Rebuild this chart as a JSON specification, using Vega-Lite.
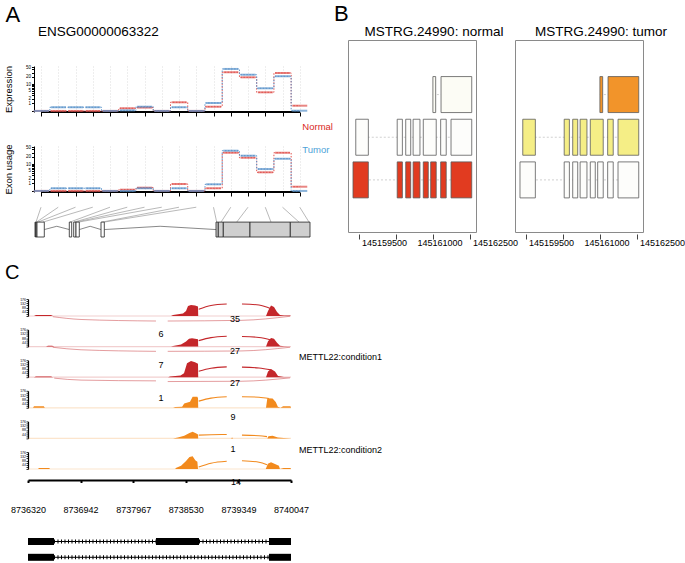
{
"$schema": "https://vega.github.io/schema/vega-lite/v6.json",
"background": "white",
"padding": {"left": 3, "top": 2, "right": 0, "bottom": 0},
"config": {
  "view": {"stroke": null},
  "font": "Liberation Sans",
  "axis": {"grid": false, "labelFlush": false, "labelFont": "Liberation Sans", "titleFont": "Liberation Sans", "labelColor": "black", "titleColor": "black", "domainColor": "black", "tickColor": "black", "titleFontWeight": "normal"},
  "title": {"font": "Liberation Sans", "fontWeight": "normal", "color": "black"},
  "text": {"font": "Liberation Sans"}
},
"datasets": {
  "dex": [
    {"exon":1,"cond":"Normal","expr":0,"usage":0},
    {"exon":2,"cond":"Normal","expr":0,"usage":0},
    {"exon":3,"cond":"Normal","expr":0,"usage":0},
    {"exon":4,"cond":"Normal","expr":0,"usage":0},
    {"exon":5,"cond":"Normal","expr":0,"usage":0},
    {"exon":6,"cond":"Normal","expr":0.27,"usage":0.12},
    {"exon":7,"cond":"Normal","expr":0.35,"usage":0.34},
    {"exon":8,"cond":"Normal","expr":0,"usage":0},
    {"exon":9,"cond":"Normal","expr":1.17,"usage":0.86},
    {"exon":10,"cond":"Normal","expr":0,"usage":0},
    {"exon":11,"cond":"Normal","expr":0.46,"usage":0.27},
    {"exon":12,"cond":"Normal","expr":31,"usage":29.7},
    {"exon":13,"cond":"Normal","expr":19.3,"usage":18.6},
    {"exon":14,"cond":"Normal","expr":4.3,"usage":4.3},
    {"exon":15,"cond":"Normal","expr":29,"usage":29.7},
    {"exon":16,"cond":"Normal","expr":0.6,"usage":0.46},
    {"exon":1,"cond":"Tumor","expr":0,"usage":0},
    {"exon":2,"cond":"Tumor","expr":0.39,"usage":0.27},
    {"exon":3,"cond":"Tumor","expr":0.39,"usage":0.27},
    {"exon":4,"cond":"Tumor","expr":0.39,"usage":0.27},
    {"exon":5,"cond":"Tumor","expr":0,"usage":0},
    {"exon":6,"cond":"Tumor","expr":0.05,"usage":0},
    {"exon":7,"cond":"Tumor","expr":0.46,"usage":0.27},
    {"exon":8,"cond":"Tumor","expr":0,"usage":0},
    {"exon":9,"cond":"Tumor","expr":0.39,"usage":0.27},
    {"exon":10,"cond":"Tumor","expr":0,"usage":0},
    {"exon":11,"cond":"Tumor","expr":1.04,"usage":0.81},
    {"exon":12,"cond":"Tumor","expr":42,"usage":35.8},
    {"exon":13,"cond":"Tumor","expr":24.7,"usage":22.5},
    {"exon":14,"cond":"Tumor","expr":6.6,"usage":6.1},
    {"exon":15,"cond":"Tumor","expr":21.3,"usage":17},
    {"exon":16,"cond":"Tumor","expr":0.02,"usage":0}
  ],
  "legendA": [
    {"label": "Normal", "ex": 16.15, "row": 0},
    {"label": "Tumor", "ex": 16.15, "row": 1}
  ],
  "gconn": [
    {"slot":700,"g":200},{"slot":2425,"g":250},{"slot":4150,"g":400},{"slot":5875,"g":900},
    {"slot":7600,"g":3600},{"slot":9325,"g":4000},{"slot":11050,"g":4200},{"slot":12775,"g":4450},
    {"slot":14500,"g":6800},{"slot":16225,"g":7000},{"slot":17950,"g":18270},{"slot":19675,"g":18700},
    {"slot":21400,"g":20270},{"slot":23125,"g":23700},{"slot":24850,"g":26500},{"slot":26575,"g":27500}
  ],
  "gexon": [
    {"s":100,"e":170,"b":"a"},{"s":200,"e":300,"b":"a"},{"s":300,"e":1030,"b":"a"},
    {"s":3530,"e":3770,"b":"a"},{"s":3970,"e":4200,"b":"a"},{"s":4200,"e":4530,"b":"a"},
    {"s":6700,"e":7030,"b":"a"},{"s":18200,"e":18430,"b":"b"},{"s":18430,"e":18930,"b":"b"},
    {"s":18930,"e":21600,"b":"b"},{"s":21600,"e":25630,"b":"b"},{"s":25630,"e":27600,"b":"b"}
  ],
  "gintron": [
    {"i":1,"p":1030,"h":0.5},{"i":1,"p":2280,"h":0.72},{"i":1,"p":3530,"h":0.5},
    {"i":2,"p":4530,"h":0.5},{"i":2,"p":5615,"h":0.72},{"i":2,"p":6700,"h":0.5},
    {"i":3,"p":7030,"h":0.5},{"i":3,"p":12615,"h":0.72},{"i":3,"p":18200,"h":0.5}
  ],
  "bexon": [
    {"panel":"normal","tx":1,"start":145158835,"end":145159250,"usage":1},
    {"panel":"normal","tx":1,"start":145160030,"end":145160170,"usage":1},
    {"panel":"normal","tx":1,"start":145160260,"end":145160395,"usage":1},
    {"panel":"normal","tx":1,"start":145160460,"end":145160645,"usage":1},
    {"panel":"normal","tx":1,"start":145160735,"end":145160870,"usage":1},
    {"panel":"normal","tx":1,"start":145160935,"end":145161085,"usage":1},
    {"panel":"normal","tx":1,"start":145161205,"end":145161355,"usage":1},
    {"panel":"normal","tx":1,"start":145161485,"end":145162045,"usage":1},
    {"panel":"normal","tx":2,"start":145158910,"end":145159250,"usage":0},
    {"panel":"normal","tx":2,"start":145160030,"end":145160170,"usage":0},
    {"panel":"normal","tx":2,"start":145160260,"end":145160395,"usage":0},
    {"panel":"normal","tx":2,"start":145160460,"end":145160645,"usage":0},
    {"panel":"normal","tx":2,"start":145160735,"end":145161085,"usage":0},
    {"panel":"normal","tx":2,"start":145161205,"end":145161355,"usage":0},
    {"panel":"normal","tx":2,"start":145161485,"end":145162045,"usage":0},
    {"panel":"normal","tx":3,"start":145160995,"end":145161070,"usage":0.02},
    {"panel":"normal","tx":3,"start":145161215,"end":145162045,"usage":0.02},
    {"panel":"tumor","tx":1,"start":145158835,"end":145159250,"usage":0},
    {"panel":"tumor","tx":1,"start":145160030,"end":145160170,"usage":0},
    {"panel":"tumor","tx":1,"start":145160260,"end":145160395,"usage":0},
    {"panel":"tumor","tx":1,"start":145160460,"end":145160645,"usage":0},
    {"panel":"tumor","tx":1,"start":145160735,"end":145160870,"usage":0},
    {"panel":"tumor","tx":1,"start":145160935,"end":145161085,"usage":0},
    {"panel":"tumor","tx":1,"start":145161205,"end":145161355,"usage":0},
    {"panel":"tumor","tx":1,"start":145161485,"end":145162045,"usage":0},
    {"panel":"tumor","tx":2,"start":145158910,"end":145159250,"usage":0.4},
    {"panel":"tumor","tx":2,"start":145160030,"end":145160170,"usage":0.4},
    {"panel":"tumor","tx":2,"start":145160260,"end":145160395,"usage":0.4},
    {"panel":"tumor","tx":2,"start":145160460,"end":145160645,"usage":0.4},
    {"panel":"tumor","tx":2,"start":145160735,"end":145161085,"usage":0.4},
    {"panel":"tumor","tx":2,"start":145161205,"end":145161355,"usage":0.4},
    {"panel":"tumor","tx":2,"start":145161485,"end":145162045,"usage":0.4},
    {"panel":"tumor","tx":3,"start":145160995,"end":145161070,"usage":0.6},
    {"panel":"tumor","tx":3,"start":145161215,"end":145162045,"usage":0.6}
  ],
  "blab": [
    {"pos":145159500,"label":"145159500"},
    {"pos":145161000,"label":"145161000"},
    {"pos":145162500,"label":"145162500"}
  ],
  "sash": [
    {"t":1,"k":"base","u":0,"u2":5,"v":0},{"t":2,"k":"base","u":0,"u2":5,"v":0},{"t":3,"k":"base","u":0,"u2":5,"v":0},
    {"t":4,"k":"base","u":0,"u2":5,"v":0},{"t":5,"k":"base","u":0,"u2":5,"v":0},{"t":6,"k":"base","u":0,"u2":5,"v":0},

    {"t":1,"k":"cov","u":0,"v":0},{"t":1,"k":"cov","u":0.114,"v":0},{"t":1,"k":"cov","u":0.152,"v":10},{"t":1,"k":"cov","u":0.437,"v":10},{"t":1,"k":"cov","u":0.475,"v":0},
    {"t":1,"k":"cov","u":2.719,"v":0},{"t":1,"k":"cov","u":2.757,"v":10},{"t":1,"k":"cov","u":2.947,"v":26},{"t":1,"k":"cov","u":3.004,"v":52},{"t":1,"k":"cov","u":3.042,"v":104},{"t":1,"k":"cov","u":3.099,"v":114},{"t":1,"k":"cov","u":3.175,"v":109},{"t":1,"k":"cov","u":3.232,"v":98},{"t":1,"k":"cov","u":3.236,"v":0},
    {"t":1,"k":"cov","u":4.525,"v":0},{"t":1,"k":"cov","u":4.563,"v":52},{"t":1,"k":"cov","u":4.62,"v":109},{"t":1,"k":"cov","u":4.677,"v":93},{"t":1,"k":"cov","u":4.734,"v":41},{"t":1,"k":"cov","u":4.791,"v":10},{"t":1,"k":"cov","u":4.867,"v":5},{"t":1,"k":"cov","u":4.981,"v":5},{"t":1,"k":"cov","u":5,"v":0},

    {"t":2,"k":"cov","u":0,"v":0},{"t":2,"k":"cov","u":0.342,"v":0},{"t":2,"k":"cov","u":0.38,"v":10},{"t":2,"k":"cov","u":0.46,"v":10},{"t":2,"k":"cov","u":0.5,"v":0},
    {"t":2,"k":"cov","u":2.719,"v":0},{"t":2,"k":"cov","u":2.757,"v":7},{"t":2,"k":"cov","u":2.909,"v":21},{"t":2,"k":"cov","u":3.004,"v":52},{"t":2,"k":"cov","u":3.061,"v":80},{"t":2,"k":"cov","u":3.118,"v":86},{"t":2,"k":"cov","u":3.175,"v":80},{"t":2,"k":"cov","u":3.232,"v":75},{"t":2,"k":"cov","u":3.236,"v":0},
    {"t":2,"k":"cov","u":4.525,"v":0},{"t":2,"k":"cov","u":4.563,"v":55},{"t":2,"k":"cov","u":4.62,"v":90},{"t":2,"k":"cov","u":4.677,"v":80},{"t":2,"k":"cov","u":4.734,"v":40},{"t":2,"k":"cov","u":4.791,"v":10},{"t":2,"k":"cov","u":4.867,"v":3},{"t":2,"k":"cov","u":5,"v":0},

    {"t":3,"k":"cov","u":0,"v":0},{"t":3,"k":"cov","u":0.114,"v":0},{"t":3,"k":"cov","u":0.152,"v":7},{"t":3,"k":"cov","u":0.437,"v":7},{"t":3,"k":"cov","u":0.475,"v":0},
    {"t":3,"k":"cov","u":2.663,"v":0},{"t":3,"k":"cov","u":2.7,"v":7},{"t":3,"k":"cov","u":2.9,"v":17},{"t":3,"k":"cov","u":2.966,"v":41},{"t":3,"k":"cov","u":3.023,"v":145},{"t":3,"k":"cov","u":3.099,"v":169},{"t":3,"k":"cov","u":3.175,"v":155},{"t":3,"k":"cov","u":3.232,"v":140},{"t":3,"k":"cov","u":3.236,"v":0},
    {"t":3,"k":"cov","u":4.525,"v":0},{"t":3,"k":"cov","u":4.563,"v":60},{"t":3,"k":"cov","u":4.62,"v":86},{"t":3,"k":"cov","u":4.696,"v":60},{"t":3,"k":"cov","u":4.753,"v":13},{"t":3,"k":"cov","u":4.867,"v":3},{"t":3,"k":"cov","u":5,"v":0},

    {"t":4,"k":"cov","u":0,"v":0},{"t":4,"k":"cov","u":0.095,"v":0},{"t":4,"k":"cov","u":0.114,"v":17},{"t":4,"k":"cov","u":0.3,"v":17},{"t":4,"k":"cov","u":0.32,"v":0},
    {"t":4,"k":"cov","u":2.757,"v":0},{"t":4,"k":"cov","u":2.8,"v":7},{"t":4,"k":"cov","u":2.93,"v":10},{"t":4,"k":"cov","u":2.97,"v":45},{"t":4,"k":"cov","u":3.08,"v":62},{"t":4,"k":"cov","u":3.13,"v":114},{"t":4,"k":"cov","u":3.22,"v":114},{"t":4,"k":"cov","u":3.232,"v":100},{"t":4,"k":"cov","u":3.236,"v":0},
    {"t":4,"k":"cov","u":4.525,"v":0},{"t":4,"k":"cov","u":4.55,"v":100},{"t":4,"k":"cov","u":4.65,"v":95},{"t":4,"k":"cov","u":4.71,"v":60},{"t":4,"k":"cov","u":4.75,"v":10},{"t":4,"k":"cov","u":4.8,"v":0},{"t":4,"k":"cov","u":4.85,"v":17},{"t":4,"k":"cov","u":4.99,"v":17},{"t":4,"k":"cov","u":5,"v":0},

    {"t":5,"k":"cov","u":0,"v":0},{"t":5,"k":"cov","u":2.757,"v":0},{"t":5,"k":"cov","u":2.85,"v":10},{"t":5,"k":"cov","u":2.97,"v":28},{"t":5,"k":"cov","u":3.07,"v":55},{"t":5,"k":"cov","u":3.13,"v":69},{"t":5,"k":"cov","u":3.2,"v":52},{"t":5,"k":"cov","u":3.232,"v":40},{"t":5,"k":"cov","u":3.236,"v":0},
    {"t":5,"k":"cov","u":3.86,"v":0},{"t":5,"k":"cov","u":3.88,"v":10},{"t":5,"k":"cov","u":3.9,"v":0},
    {"t":5,"k":"cov","u":4.55,"v":0},{"t":5,"k":"cov","u":4.57,"v":21},{"t":5,"k":"cov","u":4.65,"v":28},{"t":5,"k":"cov","u":4.75,"v":10},{"t":5,"k":"cov","u":4.86,"v":3},{"t":5,"k":"cov","u":5,"v":0},

    {"t":6,"k":"cov","u":0,"v":0},{"t":6,"k":"cov","u":0.19,"v":0},{"t":6,"k":"cov","u":0.21,"v":10},{"t":6,"k":"cov","u":0.4,"v":10},{"t":6,"k":"cov","u":0.42,"v":0},
    {"t":6,"k":"cov","u":2.8,"v":0},{"t":6,"k":"cov","u":2.81,"v":10},{"t":6,"k":"cov","u":2.91,"v":34},{"t":6,"k":"cov","u":3.0,"v":80},{"t":6,"k":"cov","u":3.07,"v":125},{"t":6,"k":"cov","u":3.13,"v":131},{"t":6,"k":"cov","u":3.18,"v":90},{"t":6,"k":"cov","u":3.22,"v":75},{"t":6,"k":"cov","u":3.232,"v":0},
    {"t":6,"k":"cov","u":4.52,"v":0},{"t":6,"k":"cov","u":4.56,"v":55},{"t":6,"k":"cov","u":4.62,"v":69},{"t":6,"k":"cov","u":4.77,"v":34},{"t":6,"k":"cov","u":4.79,"v":0},{"t":6,"k":"cov","u":4.86,"v":10},{"t":6,"k":"cov","u":4.99,"v":10},{"t":6,"k":"cov","u":5,"v":0},

    {"t":1,"k":"up","a":"1a","u":3.245,"v":69},{"t":1,"k":"up","a":"1a","u":3.479,"v":109},{"t":1,"k":"up","a":"1a","u":3.778,"v":124},
    {"t":1,"k":"up","a":"1b","u":4.068,"v":124},{"t":1,"k":"up","a":"1b","u":4.392,"v":114},{"t":1,"k":"up","a":"1b","u":4.62,"v":76},
    {"t":1,"k":"low","a":"1c","u":0.47,"v":-7},{"t":1,"k":"low","a":"1c","u":1.008,"v":-36},{"t":1,"k":"low","a":"1c","u":2.433,"v":-52},
    {"t":1,"k":"low","a":"1d","u":2.656,"v":-52},{"t":1,"k":"low","a":"1d","u":4.049,"v":-45},{"t":1,"k":"low","a":"1d","u":4.981,"v":-3},
    {"t":2,"k":"up","a":"2a","u":3.245,"v":62},{"t":2,"k":"up","a":"2a","u":3.479,"v":93},{"t":2,"k":"up","a":"2a","u":3.778,"v":107},
    {"t":2,"k":"up","a":"2b","u":4.068,"v":104},{"t":2,"k":"up","a":"2b","u":4.392,"v":95},{"t":2,"k":"up","a":"2b","u":4.62,"v":69},
    {"t":2,"k":"low","a":"2c","u":0.47,"v":-7},{"t":2,"k":"low","a":"2c","u":1.008,"v":-33},{"t":2,"k":"low","a":"2c","u":2.433,"v":-49},
    {"t":2,"k":"low","a":"2d","u":2.656,"v":-49},{"t":2,"k":"low","a":"2d","u":4.049,"v":-45},{"t":2,"k":"low","a":"2d","u":4.981,"v":-7},
    {"t":3,"k":"up","a":"3a","u":3.245,"v":62},{"t":3,"k":"up","a":"3a","u":3.479,"v":93},{"t":3,"k":"up","a":"3a","u":3.778,"v":107},
    {"t":3,"k":"up","a":"3b","u":4.068,"v":104},{"t":3,"k":"up","a":"3b","u":4.392,"v":95},{"t":3,"k":"up","a":"3b","u":4.62,"v":76},
    {"t":3,"k":"low","a":"3c","u":0.499,"v":-10},{"t":3,"k":"low","a":"3c","u":1.008,"v":-30},{"t":3,"k":"low","a":"3c","u":2.433,"v":-38},
    {"t":3,"k":"low","a":"3d","u":2.656,"v":-45},{"t":3,"k":"low","a":"3d","u":4.049,"v":-42},{"t":3,"k":"low","a":"3d","u":4.981,"v":-7},
    {"t":4,"k":"up","a":"4a","u":3.245,"v":69},{"t":4,"k":"up","a":"4a","u":3.479,"v":100},{"t":4,"k":"up","a":"4a","u":3.778,"v":114},
    {"t":4,"k":"up","a":"4b","u":4.068,"v":114},{"t":4,"k":"up","a":"4b","u":4.392,"v":110},{"t":4,"k":"up","a":"4b","u":4.582,"v":96},
    {"t":5,"k":"up","a":"5a","u":3.245,"v":34},{"t":5,"k":"up","a":"5a","u":3.479,"v":38},{"t":5,"k":"up","a":"5a","u":3.778,"v":41},
    {"t":5,"k":"up","a":"5b","u":4.068,"v":34},{"t":5,"k":"up","a":"5b","u":4.392,"v":28},{"t":5,"k":"up","a":"5b","u":4.544,"v":18},
    {"t":6,"k":"up","a":"6a","u":3.245,"v":21},{"t":6,"k":"up","a":"6a","u":3.479,"v":60},{"t":6,"k":"up","a":"6a","u":3.778,"v":80},
    {"t":6,"k":"up","a":"6b","u":4.068,"v":86},{"t":6,"k":"up","a":"6b","u":4.392,"v":70},{"t":6,"k":"up","a":"6b","u":4.544,"v":45},

    {"t":1,"k":"lab","u":3.935,"v":-31,"txt":"35"},
    {"t":1,"k":"lab","u":2.529,"v":-183,"txt":"6"},
    {"t":2,"k":"lab","u":3.935,"v":-41,"txt":"27"},
    {"t":2,"k":"lab","u":2.529,"v":-194,"txt":"7"},
    {"t":3,"k":"lab","u":3.935,"v":-59,"txt":"27"},
    {"t":3,"k":"lab","u":2.529,"v":-217,"txt":"1"},
    {"t":4,"k":"lab","u":3.897,"v":-93,"txt":"9"},
    {"t":5,"k":"lab","u":3.897,"v":-111,"txt":"1"},
    {"t":6,"k":"lab","u":3.954,"v":-138,"txt":"14"},
    {"t":2,"k":"cond","u":5.15,"v":-111,"txt":"METTL22:condition1"},
    {"t":5,"k":"cond","u":5.15,"v":-119,"txt":"METTL22:condition2"}
  ],
  "cgene": [
    {"tx":1,"kind":"exon","s":0,"e":0.494},{"tx":1,"kind":"exon","s":2.433,"e":3.251},{"tx":1,"kind":"exon","s":4.582,"e":5},
    {"tx":1,"kind":"intron","s":0.494,"e":2.433},{"tx":1,"kind":"intron","s":3.251,"e":4.582},
    {"tx":2,"kind":"exon","s":0,"e":0.494},{"tx":2,"kind":"exon","s":4.582,"e":5},
    {"tx":2,"kind":"intron","s":0.494,"e":4.582}
  ]
},
"spacing": 14,
"resolve": {"scale": {"color": "independent", "fill": "independent"}},
"vconcat": [
  {
    "spacing": 1,
    "resolve": {"scale": {"color": "independent", "fill": "independent"}},
    "hconcat": [
      {
        "title": {"text": "A", "anchor": "start", "fontSize": 22, "baseline": "alphabetic", "offset": -19, "dx": 2},
        "bounds": "flush",
        "spacing": 10,
        "vconcat": [
          {"width": 1, "height": 16, "data": {"values": []}, "mark": "point", "encoding": {}},
          {
            "width": 279, "height": 46,
            "title": {"text": "ENSG00000063322", "anchor": "start", "frame": "group", "dx": 10, "offset": 15, "baseline": "alphabetic", "fontSize": 13.5},
            "data": {"name": "dex"},
            "encoding": {
              "x": {"field": "exon", "type": "quantitative", "title": null, "scale": {"domain": [0.232, 16.42], "nice": false, "zero": false},
                    "axis": {"values": [1,2,3,4,5,6,7,8,9,10,11,12,13,14,15,16], "labels": false, "domain": false, "tickSize": 4, "grid": true, "gridDash": [1,2], "gridColor": "#cfcfcf", "gridWidth": 0.7}},
              "y": {"field": "expr", "type": "quantitative", "title": "Expression", "scale": {"type": "symlog", "domain": [-0.1, 55], "nice": false, "zero": false},
                    "axis": {"offset": -6, "values": [0,1,2,3,4,5,6,7,8,9,10,20,30,40,50], "labelExpr": "indexof([1,2,5,10,20,50], datum.value) >= 0 ? datum.label : ''", "labelFontSize": 4.5, "tickSize": 2.5, "labelPadding": 1, "titleFontSize": 9.5, "titlePadding": 12}},
              "color": {"field": "cond", "type": "nominal", "scale": {"domain": ["Normal", "Tumor"], "range": ["#e0524e", "#5a93cb"]}, "legend": null}
            },
            "layer": [
              {"mark": {"type": "rule", "strokeWidth": 1}, "encoding": {"x": {"datum": 1}, "x2": {"datum": 16}, "y": {"datum": -0.1}, "color": {"value": "black"}}},
              {"mark": {"type": "line", "interpolate": "step", "strokeDash": [1.5, 1.5], "strokeWidth": 1}},
              {"mark": {"type": "tick", "orient": "horizontal", "size": 15, "thickness": 2}}
            ]
          },
          {
            "width": 279, "height": 14,
            "data": {"name": "legendA"},
            "encoding": {
              "x": {"field": "ex", "type": "quantitative", "title": null, "scale": {"domain": [0.232, 16.42], "nice": false, "zero": false}, "axis": null},
              "y": {"field": "row", "type": "quantitative", "title": null, "scale": {"domain": [-0.217, 0.391], "reverse": true, "nice": false, "zero": false}, "axis": null},
              "text": {"field": "label"}
            },
            "layer": [
              {"transform": [{"filter": "datum.label == 'Normal'"}], "mark": {"type": "text", "align": "left", "baseline": "middle", "fontSize": 9.5, "color": "#d9281e"}},
              {"transform": [{"filter": "datum.label == 'Tumor'"}], "mark": {"type": "text", "align": "left", "baseline": "middle", "fontSize": 9.5, "color": "#4ea2d8"}}
            ]
          },
          {
            "width": 279, "height": 46,
            "data": {"name": "dex"},
            "encoding": {
              "x": {"field": "exon", "type": "quantitative", "title": null, "scale": {"domain": [0.232, 16.42], "nice": false, "zero": false},
                    "axis": {"values": [1,2,3,4,5,6,7,8,9,10,11,12,13,14,15,16], "labels": false, "domain": false, "tickSize": 4, "grid": true, "gridDash": [1,2], "gridColor": "#cfcfcf", "gridWidth": 0.7}},
              "y": {"field": "usage", "type": "quantitative", "title": "Exon usage", "scale": {"type": "symlog", "domain": [-0.1, 55], "nice": false, "zero": false},
                    "axis": {"offset": -6, "values": [0,1,2,3,4,5,6,7,8,9,10,20,30,40,50], "labelExpr": "indexof([1,2,5,10,20,50], datum.value) >= 0 ? datum.label : ''", "labelFontSize": 4.5, "tickSize": 2.5, "labelPadding": 1, "titleFontSize": 9.5, "titlePadding": 12}},
              "color": {"field": "cond", "type": "nominal", "scale": {"domain": ["Normal", "Tumor"], "range": ["#e0524e", "#5a93cb"]}, "legend": null}
            },
            "layer": [
              {"mark": {"type": "rule", "strokeWidth": 1}, "encoding": {"x": {"datum": 1}, "x2": {"datum": 16}, "y": {"datum": -0.1}, "color": {"value": "black"}}},
              {"mark": {"type": "line", "interpolate": "step", "strokeDash": [1.5, 1.5], "strokeWidth": 1}},
              {"mark": {"type": "tick", "orient": "horizontal", "size": 15, "thickness": 2}}
            ]
          },
          {
            "width": 282, "height": 35,
            "layer": [
              {"data": {"name": "gconn"}, "mark": {"type": "rule", "color": "#8a8a8a", "strokeWidth": 0.6},
               "encoding": {"x": {"field": "slot", "type": "quantitative", "title": null, "scale": {"domain": [-600, 27600], "nice": false, "zero": false}, "axis": null},
                            "x2": {"field": "g"},
                            "y": {"datum": 2, "type": "quantitative", "scale": {"domain": [0, 2.35], "nice": false, "zero": false}, "axis": null},
                            "y2": {"datum": 1}}},
              {"data": {"name": "gintron"}, "mark": {"type": "line", "color": "#555555", "strokeWidth": 0.7},
               "encoding": {"x": {"field": "p", "type": "quantitative", "title": null, "axis": null}, "y": {"field": "h", "type": "quantitative", "title": null, "axis": null}, "detail": {"field": "i"}}},
              {"data": {"name": "gexon"}, "mark": {"type": "rect", "stroke": "#222222", "strokeWidth": 0.8},
               "encoding": {"x": {"field": "s", "type": "quantitative", "title": null, "axis": null}, "x2": {"field": "e"},
                            "y": {"datum": 0}, "y2": {"datum": 1},
                            "fill": {"field": "b", "type": "nominal", "scale": {"domain": ["a", "b"], "range": ["#ffffff", "#cfcfcf"]}, "legend": null}}}
            ]
          }
        ]
      },
      {
        "title": {"text": "B", "anchor": "start", "fontSize": 22, "baseline": "alphabetic", "offset": -18.5, "dx": -13.5},
        "bounds": "flush",
        "spacing": 39,
        "hconcat": [
          {
            "width": 128, "height": 192,
            "view": {"stroke": "#8a8a8a", "strokeWidth": 1},
            "title": {"text": "MSTRG.24990: normal", "anchor": "middle", "dx": 22, "offset": -9, "baseline": "alphabetic", "fontSize": 13.5},
            "layer": [
              {"data": {"name": "bexon"},
               "transform": [{"filter": "datum.panel == 'normal'"}, {"aggregate": [{"op": "min", "field": "start", "as": "a"}, {"op": "max", "field": "end", "as": "b"}], "groupby": ["tx"]}],
               "mark": {"type": "rule", "strokeDash": [2, 2], "color": "#c4c4c4", "strokeWidth": 0.8},
               "encoding": {"x": {"field": "a", "type": "quantitative", "title": null, "scale": {"domain": [145158700, 145162160], "nice": false, "zero": false},
                                  "axis": {"values": [145159000, 145159500, 145160000, 145160500, 145161000, 145161500, 145162000], "labels": false, "domain": false, "tickSize": 5, "offset": 2, "tickColor": "#444444"}},
                            "x2": {"field": "b"},
                            "y": {"field": "tx", "type": "quantitative", "title": null, "scale": {"domain": [-0.104, 4.162], "nice": false, "zero": false}, "axis": null}}},
              {"data": {"name": "bexon"},
               "transform": [{"filter": "datum.panel == 'normal'"}],
               "mark": {"type": "bar", "orient": "horizontal", "size": 36, "stroke": "#5a5a5a", "strokeWidth": 0.8},
               "encoding": {"x": {"field": "start", "type": "quantitative", "title": null}, "x2": {"field": "end"},
                            "y": {"field": "tx", "type": "quantitative", "title": null},
                            "fill": {"field": "usage", "type": "quantitative", "scale": {"domain": [0, 0.4, 0.6, 1], "range": ["#fdfdfb", "#f5ee86", "#f2942a", "#e13b20"]}, "legend": null}}},
              {"data": {"name": "blab"},
               "mark": {"type": "text", "fontSize": 9, "dx": 7, "dy": 16, "baseline": "middle"},
               "encoding": {"x": {"field": "pos", "type": "quantitative", "title": null}, "y": {"datum": -0.104}, "text": {"field": "label"}}}
            ]
          },
          {
            "width": 128, "height": 192,
            "view": {"stroke": "#8a8a8a", "strokeWidth": 1},
            "title": {"text": "MSTRG.24990: tumor", "anchor": "middle", "dx": 22, "offset": -9, "baseline": "alphabetic", "fontSize": 13.5},
            "layer": [
              {"data": {"name": "bexon"},
               "transform": [{"filter": "datum.panel == 'tumor'"}, {"aggregate": [{"op": "min", "field": "start", "as": "a"}, {"op": "max", "field": "end", "as": "b"}], "groupby": ["tx"]}],
               "mark": {"type": "rule", "strokeDash": [2, 2], "color": "#c4c4c4", "strokeWidth": 0.8},
               "encoding": {"x": {"field": "a", "type": "quantitative", "title": null, "scale": {"domain": [145158700, 145162160], "nice": false, "zero": false},
                                  "axis": {"values": [145159000, 145159500, 145160000, 145160500, 145161000, 145161500, 145162000], "labels": false, "domain": false, "tickSize": 5, "offset": 2, "tickColor": "#444444"}},
                            "x2": {"field": "b"},
                            "y": {"field": "tx", "type": "quantitative", "title": null, "scale": {"domain": [-0.104, 4.162], "nice": false, "zero": false}, "axis": null}}},
              {"data": {"name": "bexon"},
               "transform": [{"filter": "datum.panel == 'tumor'"}],
               "mark": {"type": "bar", "orient": "horizontal", "size": 36, "stroke": "#5a5a5a", "strokeWidth": 0.8},
               "encoding": {"x": {"field": "start", "type": "quantitative", "title": null}, "x2": {"field": "end"},
                            "y": {"field": "tx", "type": "quantitative", "title": null},
                            "fill": {"field": "usage", "type": "quantitative", "scale": {"domain": [0, 0.4, 0.6, 1], "range": ["#fdfdfb", "#f5ee86", "#f2942a", "#e13b20"]}, "legend": null}}},
              {"data": {"name": "blab"},
               "mark": {"type": "text", "fontSize": 9, "dx": 7, "dy": 16, "baseline": "middle"},
               "encoding": {"x": {"field": "pos", "type": "quantitative", "title": null}, "y": {"datum": -0.104}, "text": {"field": "label"}}}
            ]
          }
        ]
      }
    ]
  },
  {
    "title": {"text": "C", "anchor": "start", "fontSize": 20, "baseline": "alphabetic", "offset": -2, "dx": -5.5},
    "bounds": "flush",
    "spacing": 13.6,
    "vconcat": [
      {
        "width": 263, "height": 17,
        "data": {"name": "sash"},
        "transform": [{"filter": "datum.t == 1"}],
        "encoding": {
          "x": {"field": "u", "type": "quantitative", "title": null, "scale": {"domain": [0, 5], "nice": false, "zero": false}, "axis": null},
          "y": {"field": "v", "type": "quantitative", "title": null, "scale": {"domain": [0, 176], "nice": false, "zero": false},
                "axis": {"values": [0, 22, 44, 66, 88, 110, 132, 154, 176], "labelExpr": "datum.value > 0 && datum.value % 44 == 0 ? datum.label : ''", "labelFontSize": 3.5, "tickSize": 2, "labelPadding": 0.5, "domainWidth": 1.2, "tickWidth": 0.8}},
          "color": {"field": "t", "type": "nominal", "scale": {"domain": [1, 2, 3, 4, 5, 6], "range": ["#c4262a", "#c4262a", "#c4262a", "#f28a1d", "#f28a1d", "#f28a1d"]}, "legend": null}
        },
        "layer": [
          {"transform": [{"filter": "datum.k == 'base'"}], "mark": {"type": "rule", "strokeWidth": 1.2, "opacity": 0.22}, "encoding": {"x2": {"field": "u2"}}},
          {"transform": [{"filter": "datum.k == 'low'"}], "mark": {"type": "line", "interpolate": "monotone", "strokeWidth": 1, "opacity": 0.45}, "encoding": {"detail": {"field": "a"}}},
          {"transform": [{"filter": "datum.k == 'up'"}], "mark": {"type": "line", "interpolate": "monotone", "strokeWidth": 1.1}, "encoding": {"detail": {"field": "a"}}},
          {"transform": [{"filter": "datum.k == 'cov'"}], "mark": {"type": "area"}},
          {"transform": [{"filter": "datum.k == 'lab'"}], "mark": {"type": "text", "fontSize": 9, "baseline": "middle"}, "encoding": {"text": {"field": "txt"}, "color": {"value": "black"}}}
        ]
      },
      {
        "width": 263, "height": 17,
        "data": {"name": "sash"},
        "transform": [{"filter": "datum.t == 2"}],
        "encoding": {
          "x": {"field": "u", "type": "quantitative", "title": null, "scale": {"domain": [0, 5], "nice": false, "zero": false}, "axis": null},
          "y": {"field": "v", "type": "quantitative", "title": null, "scale": {"domain": [0, 176], "nice": false, "zero": false},
                "axis": {"values": [0, 22, 44, 66, 88, 110, 132, 154, 176], "labelExpr": "datum.value > 0 && datum.value % 44 == 0 ? datum.label : ''", "labelFontSize": 3.5, "tickSize": 2, "labelPadding": 0.5, "domainWidth": 1.2, "tickWidth": 0.8}},
          "color": {"field": "t", "type": "nominal", "scale": {"domain": [1, 2, 3, 4, 5, 6], "range": ["#c4262a", "#c4262a", "#c4262a", "#f28a1d", "#f28a1d", "#f28a1d"]}, "legend": null}
        },
        "layer": [
          {"transform": [{"filter": "datum.k == 'base'"}], "mark": {"type": "rule", "strokeWidth": 1.2, "opacity": 0.22}, "encoding": {"x2": {"field": "u2"}}},
          {"transform": [{"filter": "datum.k == 'low'"}], "mark": {"type": "line", "interpolate": "monotone", "strokeWidth": 1, "opacity": 0.45}, "encoding": {"detail": {"field": "a"}}},
          {"transform": [{"filter": "datum.k == 'up'"}], "mark": {"type": "line", "interpolate": "monotone", "strokeWidth": 1.1}, "encoding": {"detail": {"field": "a"}}},
          {"transform": [{"filter": "datum.k == 'cov'"}], "mark": {"type": "area"}},
          {"transform": [{"filter": "datum.k == 'lab'"}], "mark": {"type": "text", "fontSize": 9, "baseline": "middle"}, "encoding": {"text": {"field": "txt"}, "color": {"value": "black"}}},
          {"transform": [{"filter": "datum.k == 'cond'"}], "mark": {"type": "text", "fontSize": 9, "align": "left", "baseline": "middle"}, "encoding": {"text": {"field": "txt"}, "color": {"value": "black"}}}
        ]
      },
      {
        "width": 263, "height": 17,
        "data": {"name": "sash"},
        "transform": [{"filter": "datum.t == 3"}],
        "encoding": {
          "x": {"field": "u", "type": "quantitative", "title": null, "scale": {"domain": [0, 5], "nice": false, "zero": false}, "axis": null},
          "y": {"field": "v", "type": "quantitative", "title": null, "scale": {"domain": [0, 176], "nice": false, "zero": false},
                "axis": {"values": [0, 22, 44, 66, 88, 110, 132, 154, 176], "labelExpr": "datum.value > 0 && datum.value % 44 == 0 ? datum.label : ''", "labelFontSize": 3.5, "tickSize": 2, "labelPadding": 0.5, "domainWidth": 1.2, "tickWidth": 0.8}},
          "color": {"field": "t", "type": "nominal", "scale": {"domain": [1, 2, 3, 4, 5, 6], "range": ["#c4262a", "#c4262a", "#c4262a", "#f28a1d", "#f28a1d", "#f28a1d"]}, "legend": null}
        },
        "layer": [
          {"transform": [{"filter": "datum.k == 'base'"}], "mark": {"type": "rule", "strokeWidth": 1.2, "opacity": 0.22}, "encoding": {"x2": {"field": "u2"}}},
          {"transform": [{"filter": "datum.k == 'low'"}], "mark": {"type": "line", "interpolate": "monotone", "strokeWidth": 1, "opacity": 0.45}, "encoding": {"detail": {"field": "a"}}},
          {"transform": [{"filter": "datum.k == 'up'"}], "mark": {"type": "line", "interpolate": "monotone", "strokeWidth": 1.1}, "encoding": {"detail": {"field": "a"}}},
          {"transform": [{"filter": "datum.k == 'cov'"}], "mark": {"type": "area"}},
          {"transform": [{"filter": "datum.k == 'lab'"}], "mark": {"type": "text", "fontSize": 9, "baseline": "middle"}, "encoding": {"text": {"field": "txt"}, "color": {"value": "black"}}}
        ]
      },
      {
        "width": 263, "height": 17,
        "data": {"name": "sash"},
        "transform": [{"filter": "datum.t == 4"}],
        "encoding": {
          "x": {"field": "u", "type": "quantitative", "title": null, "scale": {"domain": [0, 5], "nice": false, "zero": false}, "axis": null},
          "y": {"field": "v", "type": "quantitative", "title": null, "scale": {"domain": [0, 176], "nice": false, "zero": false},
                "axis": {"values": [0, 22, 44, 66, 88, 110, 132, 154, 176], "labelExpr": "datum.value > 0 && datum.value % 44 == 0 ? datum.label : ''", "labelFontSize": 3.5, "tickSize": 2, "labelPadding": 0.5, "domainWidth": 1.2, "tickWidth": 0.8}},
          "color": {"field": "t", "type": "nominal", "scale": {"domain": [1, 2, 3, 4, 5, 6], "range": ["#c4262a", "#c4262a", "#c4262a", "#f28a1d", "#f28a1d", "#f28a1d"]}, "legend": null}
        },
        "layer": [
          {"transform": [{"filter": "datum.k == 'base'"}], "mark": {"type": "rule", "strokeWidth": 1.2, "opacity": 0.22}, "encoding": {"x2": {"field": "u2"}}},
          {"transform": [{"filter": "datum.k == 'up'"}], "mark": {"type": "line", "interpolate": "monotone", "strokeWidth": 1.1}, "encoding": {"detail": {"field": "a"}}},
          {"transform": [{"filter": "datum.k == 'cov'"}], "mark": {"type": "area"}},
          {"transform": [{"filter": "datum.k == 'lab'"}], "mark": {"type": "text", "fontSize": 9, "baseline": "middle"}, "encoding": {"text": {"field": "txt"}, "color": {"value": "black"}}}
        ]
      },
      {
        "width": 263, "height": 17,
        "data": {"name": "sash"},
        "transform": [{"filter": "datum.t == 5"}],
        "encoding": {
          "x": {"field": "u", "type": "quantitative", "title": null, "scale": {"domain": [0, 5], "nice": false, "zero": false}, "axis": null},
          "y": {"field": "v", "type": "quantitative", "title": null, "scale": {"domain": [0, 176], "nice": false, "zero": false},
                "axis": {"values": [0, 22, 44, 66, 88, 110, 132, 154, 176], "labelExpr": "datum.value > 0 && datum.value % 44 == 0 ? datum.label : ''", "labelFontSize": 3.5, "tickSize": 2, "labelPadding": 0.5, "domainWidth": 1.2, "tickWidth": 0.8}},
          "color": {"field": "t", "type": "nominal", "scale": {"domain": [1, 2, 3, 4, 5, 6], "range": ["#c4262a", "#c4262a", "#c4262a", "#f28a1d", "#f28a1d", "#f28a1d"]}, "legend": null}
        },
        "layer": [
          {"transform": [{"filter": "datum.k == 'base'"}], "mark": {"type": "rule", "strokeWidth": 1.2, "opacity": 0.22}, "encoding": {"x2": {"field": "u2"}}},
          {"transform": [{"filter": "datum.k == 'up'"}], "mark": {"type": "line", "interpolate": "monotone", "strokeWidth": 1.1}, "encoding": {"detail": {"field": "a"}}},
          {"transform": [{"filter": "datum.k == 'cov'"}], "mark": {"type": "area"}},
          {"transform": [{"filter": "datum.k == 'lab'"}], "mark": {"type": "text", "fontSize": 9, "baseline": "middle"}, "encoding": {"text": {"field": "txt"}, "color": {"value": "black"}}},
          {"transform": [{"filter": "datum.k == 'cond'"}], "mark": {"type": "text", "fontSize": 9, "align": "left", "baseline": "middle"}, "encoding": {"text": {"field": "txt"}, "color": {"value": "black"}}}
        ]
      },
      {
        "width": 263, "height": 17,
        "data": {"name": "sash"},
        "transform": [{"filter": "datum.t == 6"}],
        "encoding": {
          "x": {"field": "u", "type": "quantitative", "title": null, "scale": {"domain": [0, 5], "nice": false, "zero": false},
                "axis": {"values": [0, 1, 2, 3, 4, 5], "labelExpr": "['8736320','8736942','8737967','8738530','8739349','8740047'][datum.value]", "domain": true, "ticks": true, "offset": 11, "domainWidth": 2, "tickWidth": 2, "tickSize": 2.5, "labelPadding": 23, "labelFontSize": 9, "labelDx": 6}},
          "y": {"field": "v", "type": "quantitative", "title": null, "scale": {"domain": [0, 176], "nice": false, "zero": false},
                "axis": {"values": [0, 22, 44, 66, 88, 110, 132, 154, 176], "labelExpr": "datum.value > 0 && datum.value % 44 == 0 ? datum.label : ''", "labelFontSize": 3.5, "tickSize": 2, "labelPadding": 0.5, "domainWidth": 1.2, "tickWidth": 0.8}},
          "color": {"field": "t", "type": "nominal", "scale": {"domain": [1, 2, 3, 4, 5, 6], "range": ["#c4262a", "#c4262a", "#c4262a", "#f28a1d", "#f28a1d", "#f28a1d"]}, "legend": null}
        },
        "layer": [
          {"transform": [{"filter": "datum.k == 'base'"}], "mark": {"type": "rule", "strokeWidth": 1.2, "opacity": 0.22}, "encoding": {"x2": {"field": "u2"}}},
          {"transform": [{"filter": "datum.k == 'up'"}], "mark": {"type": "line", "interpolate": "monotone", "strokeWidth": 1.1}, "encoding": {"detail": {"field": "a"}}},
          {"transform": [{"filter": "datum.k == 'cov'"}], "mark": {"type": "area"}},
          {"transform": [{"filter": "datum.k == 'lab'"}], "mark": {"type": "text", "fontSize": 9, "baseline": "middle"}, "encoding": {"text": {"field": "txt"}, "color": {"value": "black"}}}
        ]
      },
      {
        "width": 263, "height": 82,
        "data": {"name": "cgene"},
        "encoding": {
          "x": {"field": "s", "type": "quantitative", "title": null, "scale": {"domain": [0, 5], "nice": false, "zero": false}, "axis": null},
          "x2": {"field": "e"},
          "y": {"field": "tx", "type": "quantitative", "title": null, "scale": {"domain": [-2.411, 2.145], "reverse": true, "nice": false, "zero": false}, "axis": null}
        },
        "layer": [
          {"transform": [{"filter": "datum.kind == 'intron'"}], "mark": {"type": "rule", "color": "black", "strokeWidth": 1}},
          {"transform": [{"filter": "datum.kind == 'intron'"}], "mark": {"type": "rule", "color": "black", "strokeWidth": 4, "strokeDash": [1, 2.5]}},
          {"transform": [{"filter": "datum.kind == 'exon'"}], "mark": {"type": "bar", "orient": "horizontal", "size": 7, "color": "black"}}
        ]
      }
    ]
  }
]
}
